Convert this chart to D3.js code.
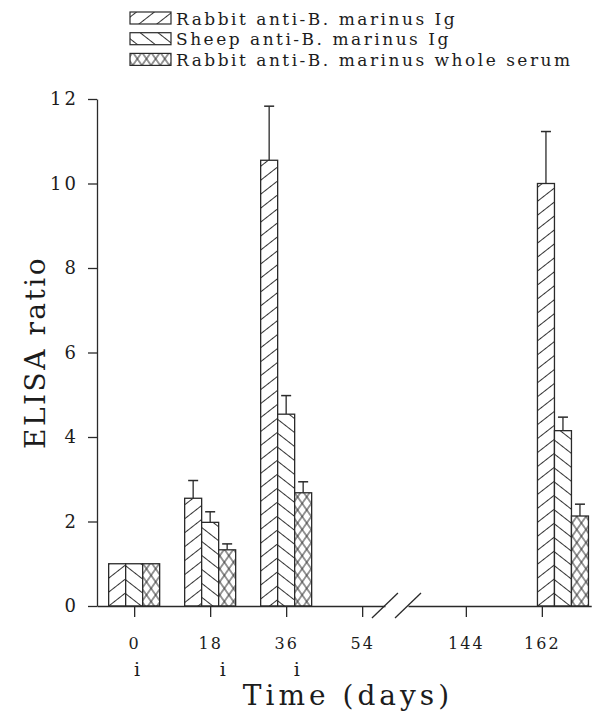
<!DOCTYPE html>
<html>
<head>
<meta charset="utf-8">
<script src="https://cdn.jsdelivr.net/npm/d3@7"></script>
<style>
body { margin:0; background:#fff; }
text { font-family: "DejaVu Serif", serif; fill:#1c1c1c; }
.axis path, .axis line { stroke:#2a2a2a; stroke-width:1.3px; }
.axis text { font-family: "DejaVu Serif", serif; font-size:16px; fill:#1c1c1c; }
</style>
</head>
<body>
<div id="chart"></div>
<script>

// series names (legend order)
var seriesNames = ["Rabbit anti-B. marinus Ig", "Sheep anti-B. marinus Ig", "Rabbit anti-B. marinus whole serum"];

var sampleDays = [0, 18, 36, 144, 167];

var rabbitIg       = [1.0, 2.55, 10.55, 0, 10.0];
var rabbitIgErr    = [0,   0.42, 1.28,  0, 1.23];
var sheepIg        = [1.0, 1.98, 4.54,  0, 4.15];
var sheepIgErr     = [0,   0.25, 0.44,  0, 0.32];
var rabbitSerum    = [1.0, 1.33, 2.68,  0, 2.13];
var rabbitSerumErr = [0,   0.14, 0.26,  0, 0.28];

var tickDaysLeft = [0, 18, 36, 54];
var tickDaysRight = [144, 162];
var injectionDays = [0.7, 21, 38.5];   // "i" markers under the axis
var yTicks = [0, 2, 4, 6, 8, 10, 12];

var W = 594, H = 714;
var plotTop = 99, plotBottom = 606, plotLeft = 97;
var pxPerDay = 76 / 18;
var barW = 17;

var svg = d3.select("#chart").append("svg")
    .attr("width", W).attr("height", H);

// hatch patterns
var defs = svg.append("defs");
function hatch(id, angle, spacing, bgFill) {
  var p = defs.append("pattern")
      .attr("id", id)
      .attr("patternUnits", "userSpaceOnUse")
      .attr("width", spacing).attr("height", 20)
      .attr("patternTransform", "rotate(" + angle + ")");
  p.append("rect").attr("width", spacing).attr("height", 20).attr("fill", bgFill);
  p.append("line").attr("x1", spacing / 2).attr("x2", spacing / 2)
      .attr("y1", 0).attr("y2", 20)
      .attr("stroke", "#333").attr("stroke-width", 1);
}
hatch("fwd", 52, 11, "#fff");
hatch("back", -52, 11, "#fff");
hatch("xa", 35, 7.5, "none");
hatch("xb", -35, 7.5, "none");
var fills = ["url(#fwd)", "url(#back)", null];

// scales
var y = d3.scaleLinear().domain([0, 12]).range([plotBottom, plotTop]);
var xLeft = d3.scaleLinear().domain([-8.8, 59.4])
    .range([plotLeft, plotLeft + 68.2 * pxPerDay]);
var xRight = d3.scaleLinear().domain([130.3, 173.7])
    .range([408, 408 + 43.4 * pxPerDay]);
function xDay(d) { return d < 100 ? xLeft(d) : xRight(d); }

// data rows
var values = [rabbitIg, sheepIg, rabbitSerum];
var errs = [rabbitIgErr, sheepIgErr, rabbitSerumErr];
var bars = [];
sampleDays.forEach(function(day, i) {
  values.forEach(function(v, s) {
    bars.push({day: day, s: s, value: v[i], err: errs[s][i]});
  });
});

// error bars (drawn first so the bar outline sits on top)
var eb = svg.append("g");
bars.filter(function(d) { return d.err > 0; }).forEach(function(d) {
  var cx = xDay(d.day) + (d.s - 1) * barW;
  eb.append("line").attr("x1", cx).attr("x2", cx)
    .attr("y1", y(d.value)).attr("y2", y(d.value + d.err))
    .attr("stroke", "#2a2a2a").attr("stroke-width", 1.3);
  eb.append("line").attr("x1", cx - 5).attr("x2", cx + 5)
    .attr("y1", y(d.value + d.err)).attr("y2", y(d.value + d.err))
    .attr("stroke", "#2a2a2a").attr("stroke-width", 1.5);
});

// bars
function barRect(g, d, fill) {
  return g.append("rect")
    .attr("x", xDay(d.day) + (d.s - 1.5) * barW)
    .attr("y", y(d.value))
    .attr("width", barW)
    .attr("height", y(0) - y(d.value))
    .attr("fill", fill);
}
var bg = svg.append("g");
bars.forEach(function(d) {
  if (d.s === 2) {
    barRect(bg, d, "#fff");
    barRect(bg, d, "url(#xa)");
    barRect(bg, d, "url(#xb)");
  } else {
    barRect(bg, d, fills[d.s]);
  }
  barRect(bg, d, "none").attr("stroke", "#2a2a2a").attr("stroke-width", 1.3);
});

// axes
svg.append("g").attr("class", "axis")
  .attr("transform", "translate(0," + plotBottom + ")")
  .call(d3.axisBottom(xLeft).tickValues(tickDaysLeft).tickSize(11).tickSizeOuter(0).tickPadding(21))
  .selectAll("text").attr("letter-spacing", "2px");
svg.append("g").attr("class", "axis")
  .attr("transform", "translate(0," + plotBottom + ")")
  .call(d3.axisBottom(xRight).tickValues(tickDaysRight).tickSize(11).tickSizeOuter(0).tickPadding(21))
  .selectAll("text").attr("letter-spacing", "2px");
svg.append("g").attr("class", "axis")
  .attr("transform", "translate(" + plotLeft + ",0)")
  .call(d3.axisLeft(y).tickValues(yTicks).tickSize(9).tickSizeOuter(0).tickPadding(9))
  .selectAll("text").style("font-size", "18px").attr("letter-spacing", "3px");

// axis break slashes
[xLeft.range()[1], xRight.range()[0]].forEach(function(bx) {
  svg.append("line").attr("x1", bx - 13).attr("y1", plotBottom + 12)
    .attr("x2", bx + 13).attr("y2", plotBottom - 13)
    .attr("stroke", "#2a2a2a").attr("stroke-width", 1.3);
});

// injection markers
svg.selectAll(".inj").data(injectionDays).enter().append("text")
  .attr("x", function(d) { return xLeft(d); })
  .attr("y", 676)
  .attr("text-anchor", "middle")
  .style("font-size", "19px")
  .text("i");

// axis titles
svg.append("text")
  .attr("transform", "translate(45," + ((plotTop + plotBottom) / 2) + ") rotate(-90)")
  .attr("text-anchor", "middle")
  .style("font-size", "28px").attr("letter-spacing", "2.5px")
  .text("ELISA ratio");
svg.append("text")
  .attr("x", 348).attr("y", 705)
  .attr("text-anchor", "middle")
  .style("font-size", "28px").attr("letter-spacing", "4px")
  .text("Time (days)");

// legend
var lg = svg.append("g");
seriesNames.forEach(function(name, i) {
  var ly = 12 + i * 20.7;
  function box(fill) {
    return lg.append("rect").attr("x", 130).attr("y", ly).attr("width", 41).attr("height", 12).attr("fill", fill);
  }
  if (i === 2) { box("url(#xa)"); box("url(#xb)"); }
  else box(fills[i]);
  box("none").attr("stroke", "#2a2a2a").attr("stroke-width", 1.2);
  lg.append("text").attr("x", 176).attr("y", ly + 12.5)
    .style("font-size", "17px").attr("letter-spacing", "2.5px")
    .text(name);
});

</script>
</body>
</html>
